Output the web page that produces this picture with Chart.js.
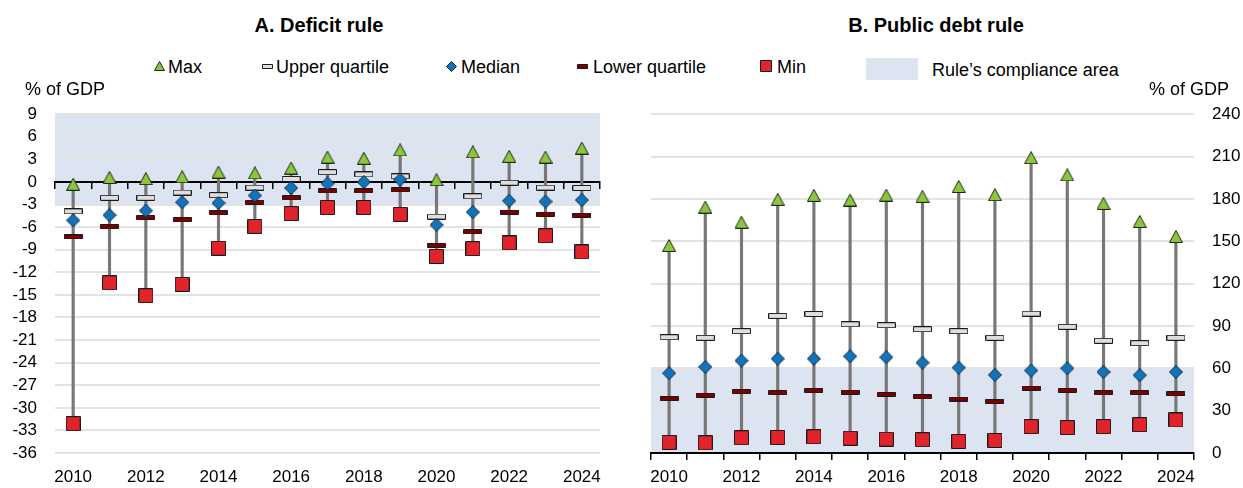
<!DOCTYPE html>
<html>
<head>
<meta charset="utf-8">
<script src="https://cdn.jsdelivr.net/npm/chart.js@4.4.1/dist/chart.umd.min.js"></script>
<style>
  html, body { margin: 0; padding: 0; background: #fff; }
  #wrap { position: relative; width: 1243px; height: 488px; overflow: hidden;
          font-family: "Liberation Sans", Arial, sans-serif; color: #000; }
  .t { position: absolute; white-space: nowrap; z-index: 2; }
  .title { font-weight: bold; font-size: 20px; line-height: 24px; text-align: center; width: 300px; }
  .lg { font-size: 18px; line-height: 20px; }
  .box { position: absolute; }
  .cv { position: absolute; top: 86px; z-index: 1; }
</style>
</head>
<body>
<div id="wrap">
  <div class="t title" style="left:169px;top:13px">A. Deficit rule</div>
  <div class="t title" style="left:786px;top:13px">B. Public debt rule</div>

  <div class="t lg" style="left:168px;top:57px">Max</div>
  <div class="t lg" style="left:276px;top:57px">Upper quartile</div>
  <div class="t lg" style="left:461px;top:57px">Median</div>
  <div class="t lg" style="left:593px;top:57px">Lower quartile</div>
  <div class="t lg" style="left:777px;top:57px">Min</div>
  <div class="box" style="left:866px;top:58px;width:52px;height:22px;background:#dce4f2"></div>
  <div class="t lg" style="left:932px;top:60px">Rule’s compliance area</div>

  <div class="t lg" style="left:25px;top:79px">% of GDP</div>
  <div class="t lg" style="left:1149px;top:79px">% of GDP</div>

  <div class="cv" style="left:0px"><canvas id="deficit" width="620" height="402"></canvas></div>
  <div class="cv" style="left:620px"><canvas id="debt" width="623" height="402"></canvas></div>
</div>

<script>
// Years on the horizontal axis
const years = ['2010','2011','2012','2013','2014','2015','2016','2017','2018','2019','2020','2021','2022','2023','2024'];

// A. Deficit rule, % of GDP
const deficitMax    = [-0.3, 0.6, 0.45, 0.7, 1.3, 1.2, 1.85, 3.3, 3.15, 4.25, 0.3, 4.0, 3.4, 3.3, 4.5];
const deficitUpper  = [-3.9, -2.1, -2.1, -1.4, -1.75, -0.75, 0.4, 1.3, 1.0, 0.75, -4.6, -1.9, -0.1, -0.75, -0.8];
const deficitMedian = [-5.1, -4.4, -3.8, -2.7, -2.8, -1.8, -0.8, -0.2, 0.0, 0.3, -5.7, -4.0, -2.5, -2.6, -2.4];
const deficitLower  = [-7.3, -5.9, -4.7, -5.0, -4.1, -2.7, -2.1, -1.2, -1.2, -1.05, -8.4, -6.6, -4.0, -4.3, -4.4];
const deficitMin    = [-32.1, -13.4, -15.1, -13.6, -8.8, -5.9, -4.2, -3.4, -3.4, -4.3, -9.9, -8.85, -8.1, -7.15, -9.3];
const deficitBand   = [-3, 9];
const deficitTicks  = { min: -36, max: 9, step: 3 };

// B. Public debt rule, % of GDP
const debtMax    = [147, 174.2, 163.5, 179.7, 182.5, 179.2, 182.7, 181.8, 188.8, 183, 209.2, 197, 176.8, 164, 153.4];
const debtUpper  = [82, 81.6, 86.3, 97.1, 98.5, 91.2, 90.5, 87.7, 86.3, 81.6, 98.7, 89.4, 79.5, 77.8, 81.6];
const debtMedian = [56.5, 61, 65.4, 66.8, 66.8, 68.5, 67.8, 64, 60.5, 55.3, 58.4, 60, 57.4, 55.1, 57.4];
const debtLower  = [38.4, 41, 43.6, 42.7, 44.1, 43.1, 41.5, 39.8, 38.2, 36.6, 46, 44.3, 42.7, 42.7, 42];
const debtMin    = [7.5, 7.2, 10.8, 11, 11.5, 10.5, 9.8, 9.4, 8.2, 8.9, 18.7, 18, 18.7, 20.1, 23.4];
const debtBand   = [0, 60];
const debtTicks  = { min: 0, max: 240, step: 30 };

const FONT = '"Liberation Sans", Arial, sans-serif';
const BAND_COLOR = '#dce4f2';

// Small bitmap markers used both in the plots and in the legend
function marker(shape, w, h, fill, stroke) {
  const c = document.createElement('canvas');
  c.width = w; c.height = h;
  const g = c.getContext('2d');
  g.fillStyle = fill; g.strokeStyle = stroke; g.lineWidth = 1;
  g.beginPath();
  if (shape === 'triangle') {
    g.moveTo(w / 2, 0.5); g.lineTo(w - 0.5, h - 0.5); g.lineTo(0.5, h - 0.5); g.closePath();
  } else if (shape === 'diamond') {
    g.moveTo(w / 2, 0.5); g.lineTo(w - 0.5, h / 2); g.lineTo(w / 2, h - 0.5); g.lineTo(0.5, h / 2); g.closePath();
  } else {
    g.rect(0.5, 0.5, w - 1, h - 1);
  }
  g.fill(); g.stroke();
  return c;
}

const styles = {
  max:    { shape: 'triangle', fill: '#8cc63f', stroke: '#1e2a12', size: [14, 13], legend: [11, 10] },
  upper:  { shape: 'rect',     fill: '#dedede', stroke: '#1a1a1a', size: [19, 6],  legend: [11, 5] },
  median: { shape: 'diamond',  fill: '#1174bb', stroke: '#0a2540', size: [14, 14], legend: [11, 11] },
  lower:  { shape: 'rect',     fill: '#800000', stroke: '#1a1a1a', size: [19, 5],  legend: [11, 5] },
  min:    { shape: 'rect',     fill: '#e1242b', stroke: '#1a1a1a', size: [15, 15], legend: [12, 12] }
};
const marks = {};
for (const k in styles) {
  const s = styles[k];
  marks[k] = marker(s.shape, s.size[0], s.size[1], s.fill, s.stroke);
}

// Legend symbols
const legendPos = { max: [159, 66], upper: [267, 66], median: [451, 66], lower: [582, 66], min: [766, 66] };
const wrap = document.getElementById('wrap');
for (const k in legendPos) {
  const s = styles[k];
  const c = marker(s.shape, s.legend[0], s.legend[1], s.fill, s.stroke);
  c.style.position = 'absolute';
  c.style.zIndex = 2;
  c.style.left = (legendPos[k][0] - s.legend[0] / 2) + 'px';
  c.style.top = (legendPos[k][1] - s.legend[1] / 2) + 'px';
  wrap.appendChild(c);
}

// Shaded compliance area behind the grid
const bandPlugin = {
  id: 'band',
  beforeDraw(chart, args, opts) {
    const { ctx, chartArea: a, scales: { y } } = chart;
    const top = y.getPixelForValue(opts.range[1]);
    const bot = y.getPixelForValue(opts.range[0]);
    ctx.save();
    ctx.fillStyle = opts.color;
    ctx.fillRect(a.left, top, a.right - a.left, bot - top);
    ctx.restore();
  }
};

function pointSet(label, values, key, order) {
  return {
    type: 'line', label, data: values, showLine: false,
    pointStyle: marks[key], pointRadius: 7, pointHoverRadius: 7,
    xAxisID: 'x', yAxisID: 'y', order
  };
}

function build(id, s, band, ticks, side, padding, axisWidth) {
  const whisker = s.min.map((v, i) => [v, s.max[i]]);
  return new Chart(document.getElementById(id), {
    type: 'bar',
    data: {
      labels: years,
      datasets: [
        { label: 'Range', data: whisker, backgroundColor: '#777777', borderWidth: 0,
          barThickness: 2.5, xAxisID: 'x', yAxisID: 'y', order: 10 },
        pointSet('Min', s.min, 'min', 5),
        pointSet('Lower quartile', s.lower, 'lower', 4),
        pointSet('Upper quartile', s.upper, 'upper', 3),
        pointSet('Median', s.median, 'median', 2),
        pointSet('Max', s.max, 'max', 1)
      ]
    },
    options: {
      responsive: false,
      animation: false,
      devicePixelRatio: 1,
      layout: { padding },
      plugins: {
        legend: { display: false },
        tooltip: { enabled: false },
        band: { range: band, color: BAND_COLOR }
      },
      scales: {
        x: {
          type: 'category', position: 'bottom', offset: true,
          grid: { display: false, drawTicks: false },
          border: { display: false },
          ticks: {
            autoSkip: false, maxRotation: 0, minRotation: 0, padding: 14, color: '#000',
            font: { family: FONT, size: 17 },
            callback(v, i) { return i % 2 === 0 ? this.getLabelForValue(v) : ''; }
          },
          afterFit(sc) { sc.height = 35; }
        },
        xl: {
          type: 'category', axis: 'x', position: { y: 0 }, offset: true,
          grid: { offset: true, drawOnChartArea: false, drawTicks: true, tickLength: 6, color: '#000', lineWidth: 1.5 },
          border: { display: true, color: '#000', width: 2 },
          ticks: { display: false }
        },
        y: {
          position: side, min: ticks.min, max: ticks.max,
          grid: { color: '#e3e3e3', lineWidth: 2, drawTicks: false },
          border: { display: false },
          ticks: { stepSize: ticks.step, autoSkip: false, padding: 18, color: '#000',
                   font: { family: FONT, size: 17 } },
          afterFit(sc) { sc.width = axisWidth; }
        }
      }
    },
    plugins: [bandPlugin]
  });
}

build('deficit',
  { max: deficitMax, upper: deficitUpper, median: deficitMedian, lower: deficitLower, min: deficitMin },
  deficitBand, deficitTicks, 'left', { left: 0, right: 20, top: 0, bottom: 0 }, 55);

build('debt',
  { max: debtMax, upper: debtUpper, median: debtMedian, lower: debtLower, min: debtMin },
  debtBand, debtTicks, 'right', { left: 31, right: 0, top: 0, bottom: 0 }, 49);
</script>
</body>
</html>
